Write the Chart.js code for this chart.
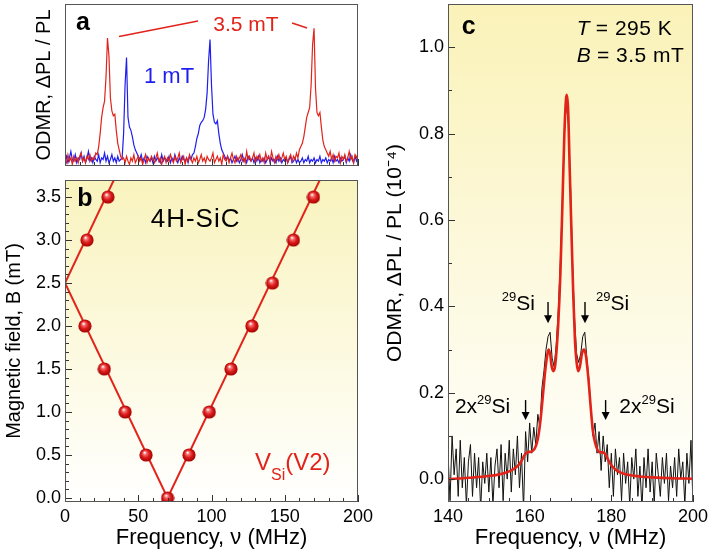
<!DOCTYPE html>
<html>
<head>
<meta charset="utf-8">
<script src="https://cdn.jsdelivr.net/npm/chart.js@4/dist/chart.umd.min.js"></script>
<style>
  html, body { margin: 0; padding: 0; background: #fff; }
  #wrap { position: relative; width: 714px; height: 559px; overflow: hidden; }
  canvas { position: absolute; }
</style>
</head>
<body>
<div id="wrap">
  <canvas id="cA" width="380" height="175" style="left:0;top:0;width:380px;height:175px"></canvas>
  <canvas id="cB" width="380" height="389" style="left:0;top:170px;width:380px;height:389px"></canvas>
  <canvas id="cC" width="334" height="559" style="left:380px;top:0;width:334px;height:559px"></canvas>
</div>
<script>
// ---- panel a : ODMR spectra, 3.5 mT (red) and 1 mT (blue) ----
const aFreq = [0,1,2,3,4,5,6,7,8,9,10,11,12,13,14,15,16,17,18,19,20,21,22,23,24,25,26,27,28,29,30,31,32,33,34,35,36,37,38,39,
  40,41,42,43,44,45,46,47,48,49,50,51,52,53,54,55,56,57,58,59,60,61,62,63,64,65,66,67,68,69,70,71,72,73,74,75,76,77,78,79,
  80,81,82,83,84,85,86,87,88,89,90,91,92,93,94,95,96,97,98,99,100,101,102,103,104,105,106,107,108,109,110,111,112,113,114,115,116,117,118,119,
  120,121,122,123,124,125,126,127,128,129,130,131,132,133,134,135,136,137,138,139,140,141,142,143,144,145,146,147,148,149,150,151,152,153,154,155,156,157,158,159,
  160,161,162,163,164,165,166,167,168,169,170,171,172,173,174,175,176,177,178,179,180,181,182,183,184,185,186,187,188,189,190,191,192,193,194,195,196,197,198,199,200];
const aRed = [0.04,0.02,0.07,0.03,0.05,0.01,0.06,0.03,0.05,0.02, 0.06,0.08,0.03,0.05,0.02,0.06,0.04,0.07,0.03,0.05,
  0.04,0.08,0.07,0.12,0.2,0.3,0.36,0.4,0.55,0.79, 0.68,0.42,0.34,0.31,0.32,0.22,0.14,0.1,0.06,0.04,
  0.05,0.02,0.06,0.03,0.01,0.05,0.03,0.07,0.02,0.04, 0.06,0.03,0.05,0.01,0.04,0.07,0.02,0.05,0.03,0.06,
  0.04,0.02,0.05,0.08,0.03,0.05,0.01,0.04,0.06,0.02, 0.05,0.03,0.07,0.04,0.02,0.06,0.03,0.05,0.08,0.02,
  0.04,0.06,0.01,0.05,0.03,0.07,0.04,0.02,0.05,0.03, 0.06,0.02,0.04,0.07,0.03,0.05,0.02,0.06,0.04,0.03,
  0.05,0.08,0.02,0.04,0.06,0.03,0.05,0.01,0.07,0.04, 0.03,0.06,0.02,0.05,0.08,0.04,0.02,0.06,0.03,0.05,
  0.07,0.03,0.05,0.02,0.09,0.04,0.06,0.03,0.05,0.08, 0.02,0.06,0.04,0.07,0.03,0.05,0.02,0.08,0.04,0.06,
  0.03,0.09,0.05,0.02,0.06,0.04,0.07,0.03,0.05,0.08, 0.04,0.06,0.02,0.05,0.07,0.03,0.06,0.04,0.08,0.05,
  0.1,0.12,0.14,0.18,0.24,0.3,0.33,0.36,0.5,0.75, 0.85,0.48,0.33,0.31,0.33,0.24,0.16,0.12,0.1,0.08,
  0.06,0.09,0.04,0.07,0.03,0.06,0.05,0.08,0.02,0.06, 0.04,0.07,0.03,0.05,0.09,0.04,0.06,0.02,0.07,0.05,0.08];
const aBlue = [0.03,0.06,0.02,0.05,0.09,0.04,0.03,0.07,0.02,0.05, 0.04,0.08,0.03,0.06,0.02,0.05,0.09,0.03,0.05,0.02,
  0.06,0.04,0.03,0.07,0.02,0.05,0.04,0.08,0.03,0.06, 0.02,0.04,0.07,0.03,0.05,0.02,0.06,0.03,0.04,0.05,
  0.2,0.5,0.67,0.3,0.24,0.22,0.18,0.13,0.1,0.08, 0.06,0.04,0.07,0.03,0.05,0.02,0.06,0.04,0.03,0.05,
  0.02,0.06,0.03,0.05,0.04,0.02,0.07,0.03,0.05,0.04, 0.03,0.06,0.02,0.05,0.03,0.07,0.04,0.02,0.05,0.03,
  0.06,0.04,0.03,0.05,0.02,0.06,0.04,0.07,0.08,0.12, 0.17,0.2,0.25,0.27,0.28,0.3,0.35,0.45,0.65,0.78,
  0.5,0.32,0.27,0.26,0.28,0.2,0.14,0.1,0.08,0.06, 0.04,0.06,0.03,0.05,0.02,0.04,0.06,0.03,0.05,0.02,
  0.04,0.07,0.03,0.05,0.02,0.06,0.04,0.03,0.05,0.02, 0.05,0.03,0.06,0.02,0.04,0.03,0.05,0.02,0.04,0.06,
  0.02,0.05,0.03,0.04,0.02,0.06,0.03,0.05,0.02,0.04, 0.03,0.05,0.02,0.04,0.06,0.02,0.03,0.05,0.02,0.04,
  0.02,0.03,0.05,0.02,0.04,0.03,0.06,0.02,0.04,0.03, 0.05,0.02,0.04,0.03,0.06,0.02,0.04,0.03,0.05,0.02,
  0.04,0.03,0.05,0.02,0.06,0.03,0.04,0.02,0.05,0.03, 0.04,0.06,0.02,0.05,0.03,0.07,0.04,0.02,0.06,0.03,0.05];

// ---- panel b : resonance frequency vs magnetic field ----
const bPointNu = [13.6, 26.8, 41, 55.3, 70, 15, 29.3, 84.6, 98.5, 113.3, 127.6, 141.6, 155.9, 169.6];
const bPointB  = [2.0, 1.5, 1.0, 0.5, 0.0, 3.0, 3.5, 0.5, 1.0, 1.5, 2.0, 2.5, 3.0, 3.5];
const bFitNu1 = [0, 70, 174];
const bFitB1  = [2.5, 0, 3.7];
const bFitNu2 = [0, 33.4];
const bFitB2  = [2.5, 3.7];
const bTicksX = [0, 50, 100, 150, 200];
const bTicksY = [0, 0.5, 1.0, 1.5, 2.0, 2.5, 3.0, 3.5];

// ---- panel c : high resolution spectrum at 3.5 mT ----
const cFreq = [140,140.5,141,141.5,142,142.5,143,143.5,144,144.5,145,145.5,146,146.5,147,147.5,148,148.5,149,149.5,
  150,150.5,151,151.5,152,152.5,153,153.5,154,154.5,155,155.5,156,156.5,157,157.5,158,158.5,159,159.5,
  160,160.5,161,161.5,162,162.5,163,163.5,164,164.5,165,165.5,166,166.5,167,167.5,168,168.5,169,169.5,
  170,170.5,171,171.5,172,172.5,173,173.5,174,174.5,175,175.5,176,176.5,177,177.5,178,178.5,179,179.5,
  180,180.5,181,181.5,182,182.5,183,183.5,184,184.5,185,185.5,186,186.5,187,187.5,188,188.5,189,189.5,
  190,190.5,191,191.5,192,192.5,193,193.5,194,194.5,195,195.5,196,196.5,197,197.5,198,198.5,199,199.5,200];
const cData = [0.06,-0.05,0.1,0.01,0.07,-0.04,0.09,-0.02,0.05,-0.06, 0.04,0.08,-0.04,0.06,-0.02,0.05,-0.07,0.04,-0.01,0.06,
  -0.03,0.05,-0.06,0.03,0.07,-0.02,0.08,-0.05,0.06,0.0, 0.09,-0.03,0.07,0.01,0.1,-0.02,0.06,-0.07,0.11,0.04,
  0.13,0.06,0.12,0.08,0.15,0.12,0.21,0.25,0.3,0.33, 0.34,0.28,0.26,0.31,0.39,0.5,0.64,0.8,0.87,0.82,
  0.68,0.5,0.37,0.29,0.27,0.29,0.33,0.34,0.28,0.23, 0.16,0.1,0.13,0.06,0.11,0.02,0.1,0.04,0.08,-0.02,
  0.06,-0.04,0.07,0.01,0.05,-0.05,0.06,-0.01,0.04,-0.06, 0.05,0.0,0.07,-0.04,0.03,-0.07,0.05,-0.02,0.07,-0.03,
  0.04,-0.06,0.06,0.01,-0.04,0.05,-0.01,0.06,-0.05,0.03, -0.02,0.05,-0.04,0.07,0.0,0.04,-0.06,0.06,-0.01,0.09,-0.06];
const cFitX = [140,145,150,153,155,156,157,158,158.7,159.3,160,160.6,161.2,161.8,162.3,162.8,163.3,163.8,
  164.2,164.6,165,165.4,165.8,166.2,166.6,167,167.5,168,168.5,168.9,169.1,169.4,169.8,170.3,170.7,171.1,171.5,171.9,
  172.3,172.8,173.3,173.7,174.1,174.5,175,175.5,176,176.6,177.2,177.9,178.5,179.2,180,181,182,184,187,190,195,200];
const cFitY = [0.0,0.003,0.007,0.012,0.018,0.023,0.03,0.042,0.055,0.062,0.063,0.065,0.07,0.085,0.11,0.15,0.2,0.25,
  0.28,0.30,0.29,0.26,0.25,0.26,0.3,0.36,0.47,0.63,0.8,0.88,0.89,0.86,0.72,0.55,0.42,0.32,0.27,0.25,
  0.26,0.29,0.30,0.29,0.26,0.22,0.16,0.11,0.085,0.068,0.062,0.062,0.058,0.045,0.032,0.022,0.016,0.01,0.006,0.004,0.002,0.001];
const cTicksX = [140, 160, 180, 200];
const cTicksY = [0, 0.2, 0.4, 0.6, 0.8, 1.0];

const RED = '#e2231a';
const BLUE = '#1e1ef0';
const FONT = '"Liberation Sans", Arial, Helvetica, sans-serif';
Chart.defaults.font.family = FONT;
Chart.defaults.color = '#000';

// inner tick marks: [from, to, minor step, major step]
const tickSpec = {
  cA: { x: [0, 200, 10, 50] },
  cB: { x: [0, 200, 10, 50], y: [0, 3.7, 0.1, 0.5] },
  cC: { x: [140, 200, 5, 20], y: [0, 1.1, 0.1, 0.2] }
};
const bgSpec = {
  cB: ['#f9f3bd', '#ffffff'],
  cC: ['#faf2b8', '#ffffff']
};
// text, arrows and lines, placed in data units
const notes = {
  cA: [
    { kind: 'text', x: 7.5, y: 0.84, parts: [{ t: 'a', s: 25, b: 1 }], color: '#000' },
    { kind: 'text', x: 101.2, y: 0.835, parts: [{ t: '3.5 mT', s: 21 }], color: RED },
    { kind: 'line', x1: 36.9, y1: 0.80, x2: 90.8, y2: 0.895, color: RED },
    { kind: 'line', x1: 155, y1: 0.883, x2: 165.2, y2: 0.852, color: RED },
    { kind: 'text', x: 53.9, y: 0.51, parts: [{ t: '1 mT', s: 22 }], color: BLUE }
  ],
  cB: [
    { kind: 'text', x: 8.4, y: 3.395, parts: [{ t: 'b', s: 25, b: 1 }], color: '#000' },
    { kind: 'text', x: 58.5, y: 3.155, parts: [{ t: '4H-SiC', s: 26, ls: 1 }], color: '#000' },
    { kind: 'text', x: 129.7, y: 0.326, parts: [{ t: 'V', s: 24 }, { t: 'Si', s: 16, dy: 10 }, { t: '(V2)', s: 24 }], color: RED }
  ],
  cC: [
    { kind: 'text', x: 143.35, y: 1.03, parts: [{ t: 'c', s: 25, b: 1 }], color: '#000' },
    { kind: 'text', x: 171.5, y: 1.028, parts: [{ t: 'T', s: 21, i: 1 }, { t: ' = 295 K', s: 21, ls: 0.5 }], color: '#000' },
    { kind: 'text', x: 171.5, y: 0.965, parts: [{ t: 'B', s: 21, i: 1 }, { t: ' = 3.5 mT', s: 21, ls: 0.5 }], color: '#000' },
    { kind: 'text', x: 153.15, y: 0.391, parts: [{ t: '29', s: 13, dy: -9 }, { t: 'Si', s: 21 }], color: '#000' },
    { kind: 'text', x: 176.25, y: 0.391, parts: [{ t: '29', s: 13, dy: -9 }, { t: 'Si', s: 21 }], color: '#000' },
    { kind: 'text', x: 141.7, y: 0.153, parts: [{ t: '2x', s: 21 }, { t: '29', s: 13, dy: -9 }, { t: 'Si', s: 21 }], color: '#000' },
    { kind: 'text', x: 181.95, y: 0.153, parts: [{ t: '2x', s: 21 }, { t: '29', s: 13, dy: -9 }, { t: 'Si', s: 21 }], color: '#000' },
    { kind: 'arrow', x: 164.5, y1: 0.41, y2: 0.361 },
    { kind: 'arrow', x: 173.55, y1: 0.41, y2: 0.361 },
    { kind: 'arrow', x: 159.0, y1: 0.183, y2: 0.137 },
    { kind: 'arrow', x: 178.6, y1: 0.183, y2: 0.137 }
  ]
};

function drawRich(ctx, x, y, parts, color) {
  ctx.fillStyle = color;
  ctx.textBaseline = 'alphabetic';
  ctx.textAlign = 'left';
  let cx = x;
  parts.forEach(p => {
    ctx.font = (p.i ? 'italic ' : '') + (p.b ? 'bold ' : '') + p.s + 'px ' + FONT;
    ctx.letterSpacing = (p.ls || 0) + 'px';
    ctx.fillText(p.t, cx, y + (p.dy || 0));
    cx += ctx.measureText(p.t).width;
  });
  ctx.letterSpacing = '0px';
}

const panelBg = {
  id: 'panelBg',
  beforeDatasetsDraw(chart) {
    const g = bgSpec[chart.canvas.id];
    if (!g) return;
    const { ctx, chartArea: a } = chart;
    const gr = ctx.createLinearGradient(0, a.top, 0, a.bottom);
    gr.addColorStop(0, g[0]);
    gr.addColorStop(1, g[1]);
    ctx.save();
    ctx.fillStyle = gr;
    ctx.fillRect(a.left, a.top, a.width, a.height);
    ctx.restore();
  }
};

const panelDeco = {
  id: 'panelDeco',
  afterDraw(chart) {
    const { ctx, chartArea: a, scales } = chart;
    const id = chart.canvas.id;
    ctx.save();
    // ticks pointing into the plot
    const ts = tickSpec[id] || {};
    ctx.strokeStyle = '#333';
    ctx.lineWidth = 1;
    ['x', 'y'].forEach(ax => {
      const s = ts[ax];
      if (!s) return;
      const n = Math.round((s[1] - s[0]) / s[2]);
      for (let i = 0; i <= n; i++) {
        const v = s[0] + i * s[2];
        const r = v / s[3];
        const len = Math.abs(r - Math.round(r)) < 1e-6 ? 7 : 4;
        ctx.beginPath();
        if (ax === 'x') {
          const px = Math.round(scales.x.getPixelForValue(v)) + 0.5;
          ctx.moveTo(px, a.bottom);
          ctx.lineTo(px, a.bottom - len);
        } else {
          const py = Math.round(scales.y.getPixelForValue(v)) + 0.5;
          ctx.moveTo(a.left, py);
          ctx.lineTo(a.left + len, py);
        }
        ctx.stroke();
      }
    });
    // frame
    ctx.strokeStyle = '#555';
    ctx.strokeRect(a.left + 0.5, a.top + 0.5, a.width - 1, a.height - 1);
    // annotations
    (notes[id] || []).forEach(n => {
      if (n.kind === 'text') {
        drawRich(ctx, scales.x.getPixelForValue(n.x), scales.y.getPixelForValue(n.y), n.parts, n.color);
      } else if (n.kind === 'line') {
        ctx.strokeStyle = n.color;
        ctx.lineWidth = 1.5;
        ctx.beginPath();
        ctx.moveTo(scales.x.getPixelForValue(n.x1), scales.y.getPixelForValue(n.y1));
        ctx.lineTo(scales.x.getPixelForValue(n.x2), scales.y.getPixelForValue(n.y2));
        ctx.stroke();
      } else if (n.kind === 'arrow') {
        const px = scales.x.getPixelForValue(n.x);
        const p1 = scales.y.getPixelForValue(n.y1);
        const p2 = scales.y.getPixelForValue(n.y2);
        ctx.strokeStyle = '#000';
        ctx.fillStyle = '#000';
        ctx.lineWidth = 1.4;
        ctx.beginPath();
        ctx.moveTo(px, p1);
        ctx.lineTo(px, p2 - 6);
        ctx.stroke();
        ctx.beginPath();
        ctx.moveTo(px - 4, p2 - 8);
        ctx.lineTo(px + 4, p2 - 8);
        ctx.lineTo(px, p2);
        ctx.closePath();
        ctx.fill();
      }
    });
    ctx.restore();
  }
};

// shaded red ball used as point marker in panel b
const ball = document.createElement('canvas');
ball.width = 14; ball.height = 14;
(function () {
  const c = ball.getContext('2d');
  const g = c.createRadialGradient(5.5, 4.5, 0.3, 7, 7, 7);
  g.addColorStop(0, '#ffffff');
  g.addColorStop(0.22, '#f37070');
  g.addColorStop(0.55, '#dd1a1a');
  g.addColorStop(1, '#9a0000');
  c.fillStyle = g;
  c.beginPath();
  c.arc(7, 7, 6.6, 0, Math.PI * 2);
  c.fill();
})();

const tickFont = { size: 18, family: FONT };
const titleFont = { size: 20, family: FONT };
const xTitleFont = { size: 22, family: FONT };
// chart area is fixed by hand: no extra label padding
const fixX = h => s => { s.height = h; s.paddingLeft = 0; s.paddingRight = 0; };
const fixY = w => s => { s.width = w; s.paddingTop = 0; s.paddingBottom = 0; };
const baseOpts = {
  responsive: false,
  animation: false,
  events: [],
  plugins: { legend: { display: false }, tooltip: { enabled: false } }
};

// panel a
new Chart(document.getElementById('cA'), {
  type: 'line',
  data: {
    datasets: [
      { data: aFreq.map((x, i) => ({ x, y: aRed[i] })), borderColor: RED, borderWidth: 1.2, pointRadius: 0 },
      { data: aFreq.map((x, i) => ({ x, y: aBlue[i] })), borderColor: BLUE, borderWidth: 1.2, pointRadius: 0 }
    ]
  },
  options: {
    ...baseOpts,
    layout: { padding: { top: 4, right: 22, left: 0, bottom: 0 } },
    scales: {
      x: { type: 'linear', min: 0, max: 200, ticks: { display: false }, grid: { display: false, drawTicks: false }, border: { display: false },
           afterFit: fixX(9) },
      y: { min: 0, max: 1, ticks: { display: false }, grid: { display: false, drawTicks: false }, border: { display: false },
           title: { display: true, text: 'ODMR, ΔPL / PL', font: titleFont, padding: { top: 32, bottom: 0 } },
           afterFit: fixY(65) }
    }
  },
  plugins: [panelBg, panelDeco]
});

// panel b
new Chart(document.getElementById('cB'), {
  type: 'line',
  data: {
    datasets: [
      { data: bPointNu.map((x, i) => ({ x, y: bPointB[i] })), showLine: false, pointStyle: ball, pointRadius: 7 },
      { data: bFitNu1.map((x, i) => ({ x, y: bFitB1[i] })), borderColor: RED, borderWidth: 2, pointRadius: 0 },
      { data: bFitNu2.map((x, i) => ({ x, y: bFitB2[i] })), borderColor: RED, borderWidth: 2, pointRadius: 0 }
    ]
  },
  options: {
    ...baseOpts,
    layout: { padding: { top: 10, right: 22, left: 0, bottom: 0 } },
    scales: {
      x: { type: 'linear', min: 0, max: 200, grid: { display: false, drawTicks: false }, border: { display: false },
           afterBuildTicks: s => { s.ticks = bTicksX.map(v => ({ value: v })); },
           ticks: { font: tickFont, padding: 4, maxRotation: 0 },
           title: { display: true, text: 'Frequency, ν (MHz)', font: xTitleFont, padding: { top: 0, bottom: 8 } },
           afterFit: fixX(57) },
      y: { min: -0.047, max: 3.698, grid: { display: false, drawTicks: false }, border: { display: false },
           afterBuildTicks: s => { s.ticks = bTicksY.map(v => ({ value: v })); },
           ticks: { font: tickFont, padding: 4, callback: v => v.toFixed(1) },
           title: { display: true, text: 'Magnetic field, B (mT)', font: titleFont, padding: { top: 2, bottom: 0 } },
           afterFit: fixY(65) }
    }
  },
  plugins: [panelBg, panelDeco]
});

// panel c
new Chart(document.getElementById('cC'), {
  type: 'line',
  data: {
    datasets: [
      { data: cFitX.map((x, i) => ({ x, y: cFitY[i] })), borderColor: RED, borderWidth: 2.6, pointRadius: 0, cubicInterpolationMode: 'monotone' },
      { data: cFreq.map((x, i) => ({ x, y: cData[i] })), borderColor: '#111', borderWidth: 1, pointRadius: 0 }
    ]
  },
  options: {
    ...baseOpts,
    layout: { padding: { top: 4, right: 21, left: 0, bottom: 0 } },
    scales: {
      x: { type: 'linear', min: 140, max: 200, grid: { display: false, drawTicks: false }, border: { display: false },
           afterBuildTicks: s => { s.ticks = cTicksX.map(v => ({ value: v })); },
           ticks: { font: tickFont, padding: 4, maxRotation: 0 },
           title: { display: true, text: 'Frequency, ν (MHz)', font: xTitleFont, padding: { top: 0, bottom: 8 } },
           afterFit: fixX(57) },
      y: { min: -0.053, max: 1.1, grid: { display: false, drawTicks: false }, border: { display: false },
           afterBuildTicks: s => { s.ticks = cTicksY.map(v => ({ value: v })); },
           ticks: { font: tickFont, padding: 4, callback: v => v.toFixed(1) },
           title: { display: true, text: 'ODMR, ΔPL / PL (10⁻⁴)', font: { size: 21, family: FONT }, padding: { top: 3, bottom: 0 } },
           afterFit: fixY(68) }
    }
  },
  plugins: [panelBg, panelDeco]
});
</script>
</body>
</html>
